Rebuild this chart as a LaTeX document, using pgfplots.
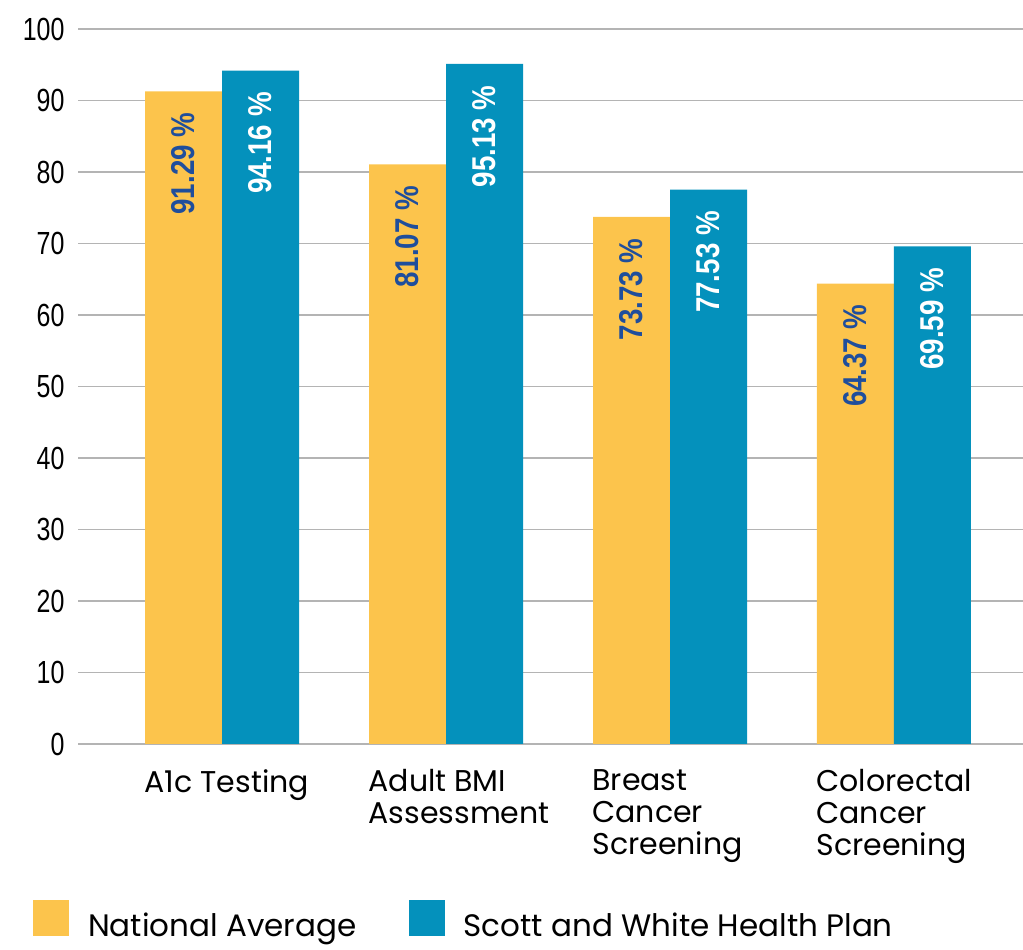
\documentclass[border=0pt]{standalone}
\usepackage{fontspec}
\usepackage{pgfplots}
\pgfplotsset{compat=1.18}
\setmainfont{Poppins}
\newfontfamily\ticknarrow[FakeStretch=0.78]{Liberation Sans}
\newfontfamily\valnarrow[FakeStretch=0.84]{Liberation Sans}
\definecolor{cOrange}{HTML}{FCC44C}
\definecolor{cTeal}{HTML}{0491BC}
\definecolor{cText}{HTML}{1F4E9C}
\definecolor{cGrid}{HTML}{B4B4B4}
\begin{document}
\begin{tikzpicture}
\useasboundingbox (0,0) rectangle (1023pt,950pt);
\begin{axis}[
  at={(78pt,206pt)}, anchor=south west,
  scale only axis, width=945pt, height=715pt,
  ybar=0pt, bar width=77pt,
  xmin=-0.643, xmax=3.576, ymin=0, ymax=100,
  ytick={0,10,...,100},
  xtick={0,1,2,3},
  xticklabels={A1c Testing,{Adult BMI\\Assessment},{Breast\\Cancer\\Screening},{Colorectal\\Cancer\\Screening}},
  axis line style={draw=none},
  major tick length=0pt,
  ymajorgrids, grid style={cGrid, line width=1.5pt},
  /pgf/number format/assume math mode=true,
  yticklabel style={font=\ticknarrow\fontsize{32}{32}\selectfont, xshift=-10pt},
  xticklabel style={font=\fontsize{30}{32}\selectfont, align=left, anchor=north west, xshift=-81pt, yshift=-22pt},
  legend columns=2,
  legend style={draw=none, at={(axis description cs:0,0)}, anchor=north west, xshift=-48pt, yshift=-154pt,
    font=\fontsize{31}{34}\selectfont, /tikz/every even column/.append style={column sep=50pt}},
  legend image code/.code={\fill[#1] (0pt,-11pt) rectangle (36pt,25pt); \path (53pt,0pt);},
  nodes near coords={\pgfmathprintnumber[fixed,fixed zerofill,precision=2]{\pgfplotspointmeta} \%},
  clip=false,
]
\addplot[fill=cOrange, draw=none, every node near coord/.append style={yshift=-18pt, rotate=90, anchor=east, text=cText, font=\valnarrow\bfseries\fontsize{33}{33}\selectfont}]
  coordinates {(0,91.29) (1,81.07) (2,73.73) (3,64.37)};
\addplot[fill=cTeal, draw=none, every node near coord/.append style={yshift=-18pt, rotate=90, anchor=east, text=white, font=\valnarrow\bfseries\fontsize{33}{33}\selectfont}]
  coordinates {(0,94.16) (1,95.13) (2,77.53) (3,69.59)};
\legend{National Average, Scott and White Health Plan}
\end{axis}
\end{tikzpicture}
\end{document}
